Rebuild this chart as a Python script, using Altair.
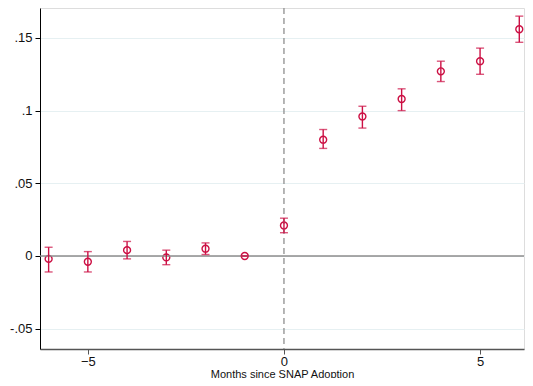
import altair as alt
import pandas as pd

months = [-6, -5, -4, -3, -2, -1, 0, 1, 2, 3, 4, 5, 6]
coef = [-0.002, -0.004, 0.004, -0.001, 0.005, 0.0, 0.021, 0.080, 0.096, 0.108, 0.127, 0.134, 0.156]
lo = [-0.011, -0.011, -0.002, -0.006, 0.001, 0.0, 0.016, 0.074, 0.088, 0.100, 0.120, 0.125, 0.147]
hi = [0.006, 0.003, 0.010, 0.004, 0.009, 0.0, 0.026, 0.087, 0.103, 0.115, 0.134, 0.143, 0.165]
x_ticks = [-5, 0, 5]
y_ticks = [-0.05, 0, 0.05, 0.1, 0.15]

df = pd.DataFrame({"m": months, "b": coef, "lo": lo, "hi": hi})

RED = "#cc1044"
FONT = "Liberation Sans"

xs = alt.Scale(domain=[-6.22, 6.12], nice=False, zero=False)
ys = alt.Scale(domain=[-0.064, 0.1706], nice=False, zero=False)

xax = alt.Axis(values=x_ticks, title="Months since SNAP Adoption", grid=False,
               domainColor="#555555", domainWidth=1.5, tickColor="#555555", tickSize=5,
               labelFontSize=13, labelFont=FONT, labelColor="#111111", labelPadding=1,
               titleFont=FONT, titleFontSize=11, titleFontWeight="normal", titlePadding=0,
               titleColor="#111111")
yax = alt.Axis(values=y_ticks, title=None, grid=True, gridColor="#e6f0f2", gridWidth=1,
               domainColor="#000000", tickColor="#000000", tickSize=5,
               labelFontSize=13, labelFont=FONT, labelColor="#111111", labelPadding=3,
               labelExpr="datum.value == 0 ? '0' : (datum.value < 0 ? '-' : '') + slice(format(abs(datum.value), '~g'), 1)")

base = alt.Chart(df)

pts = base.mark_point(shape="circle", filled=False, size=48, strokeWidth=1.4, color=RED, opacity=1).encode(
    x=alt.X("m:Q", scale=xs, axis=xax),
    y=alt.Y("b:Q", scale=ys, axis=yax),
)

zero = alt.Chart(pd.DataFrame({"z": [0]})).mark_rule(color="#8c8c8c", strokeWidth=1.5).encode(
    y=alt.Y("z:Q", scale=ys))
vline = alt.Chart(pd.DataFrame({"z": [0]})).mark_rule(color="#8f8f8f", strokeWidth=1.3, strokeDash=[6, 4]).encode(
    x=alt.X("z:Q", scale=xs))

bars = base.mark_rule(color=RED, strokeWidth=1.4).encode(
    x=alt.X("m:Q", scale=xs), y=alt.Y("lo:Q", scale=ys), y2="hi:Q")
cap_lo = base.mark_tick(color=RED, orient="horizontal", size=8, thickness=1.4).encode(
    x=alt.X("m:Q", scale=xs), y=alt.Y("lo:Q", scale=ys))
cap_hi = base.mark_tick(color=RED, orient="horizontal", size=8, thickness=1.4).encode(
    x=alt.X("m:Q", scale=xs), y=alt.Y("hi:Q", scale=ys))

chart = alt.layer(pts, zero, vline, bars, cap_lo, cap_hi).properties(
    width=484, height=341,
    autosize=alt.AutoSizeParams(type="none"),
    padding={"left": 32, "top": 0, "right": 1, "bottom": 29},
).configure_view(stroke=None).configure(background="white")

chart.save("out.html", embed_options={"renderer": "svg", "actions": False})
